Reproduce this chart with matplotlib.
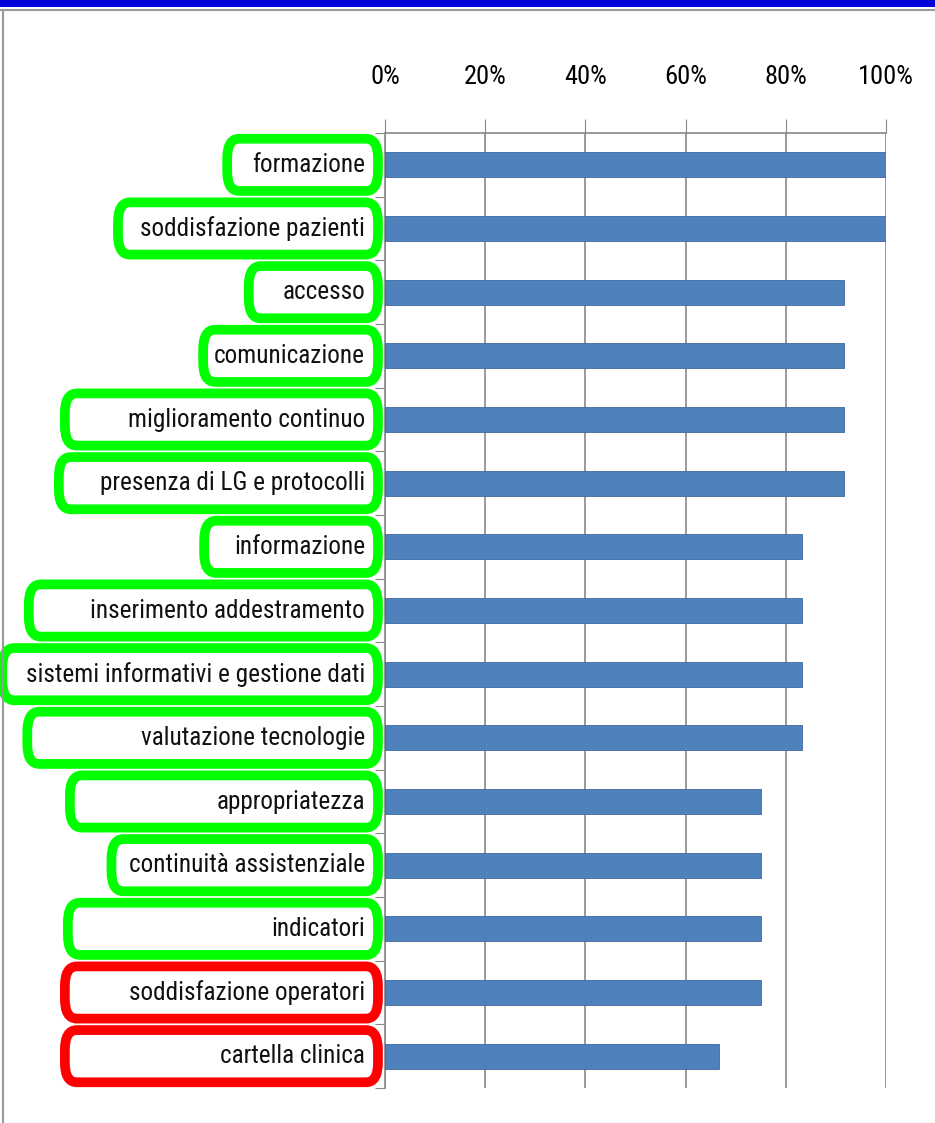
import matplotlib.pyplot as plt
from matplotlib import font_manager
from matplotlib.patches import FancyBboxPatch, Rectangle
from matplotlib.ticker import PercentFormatter

categories = [
    "formazione",
    "soddisfazione pazienti",
    "accesso",
    "comunicazione",
    "miglioramento continuo",
    "presenza di LG e protocolli",
    "informazione",
    "inserimento addestramento",
    "sistemi informativi e gestione dati",
    "valutazione tecnologie",
    "appropriatezza",
    "continuità assistenziale",
    "indicatori",
    "soddisfazione operatori",
    "cartella clinica",
]
values = [100, 100, 91.7, 91.7, 91.7, 91.7, 83.3, 83.3, 83.3, 83.3,
          75, 75, 75, 75, 66.7]
box_status = ["ok"] * 13 + ["ko"] * 2

# left edge of each hand-drawn label box, in axis percent units
box_left = [-31.5, -53.3, -27.2, -36.3, -63.9, -65.1, -36.1, -71.1, -76.4, -71.4,
            -62.9, -54.6, -63.3, -63.9, -63.9]

ticks = [0, 20, 40, 60, 80, 100]
box_colors = {"ok": "#00ff00", "ko": "#ff0000"}
bar_color = "#4f81bd"


# the original labels are set in a narrow font; use one if any is installed
def pick_font():
    fonts = font_manager.fontManager.ttflist
    prefer = ["Liberation Sans Narrow", "Roboto Condensed", "Open Sans Condensed",
              "Noto Sans Condensed", "DejaVu Sans Condensed", "Arial Narrow"]
    names = {f.name for f in fonts}
    for p in prefer:
        if p in names:
            return {"family": p}
    for f in fonts:
        if f.stretch in ("condensed", "semi-condensed", "extra-condensed") and \
                f.style == "normal" and f.weight in (400, "normal", "regular"):
            return {"family": f.name, "stretch": f.stretch}
    for f in fonts:
        if "Condensed" in f.name or "Narrow" in f.name:
            return {"family": f.name}
    return {"family": "DejaVu Sans"}


font = pick_font()

fig = plt.figure(figsize=(9.35, 11.23), dpi=100)
fig.patches.append(Rectangle((0, 1 - 7 / 1123), 1, 7 / 1123, transform=fig.transFigure,
                             facecolor="#0000dd", edgecolor="none"))
fig.lines.append(plt.Line2D([0, 1], [1 - 9.5 / 1123] * 2, transform=fig.transFigure,
                            color="#999999", lw=1.5))
fig.lines.append(plt.Line2D([2.5 / 935] * 2, [0, 1 - 9.5 / 1123], transform=fig.transFigure,
                            color="#999999", lw=1.5))

ax = fig.add_axes([385 / 935, 1 - 1088 / 1123, 501 / 935, (1088 - 133) / 1123])
y = list(range(len(categories)))
ax.barh(y, values, height=0.39, color=bar_color, edgecolor="#3c6a9e", linewidth=0.6, zorder=3)
ax.set_xlim(0, 100)
ax.set_ylim(len(categories) - 0.5, -0.5)

ax.xaxis.tick_top()
ax.set_xticks(ticks)
ax.xaxis.set_major_formatter(PercentFormatter(decimals=0))
ax.tick_params(axis="x", length=10, color="#888888", pad=22)
ax.grid(axis="x", color="#888888", linewidth=1.2, zorder=0)

ax.set_yticks([i - 0.5 for i in range(len(categories) + 1)])
ax.set_yticklabels([])
ax.tick_params(axis="y", length=7, color="#888888")
for side in ["right", "bottom"]:
    ax.spines[side].set_visible(False)
for side in ["top", "left"]:
    ax.spines[side].set_color("#888888")
    ax.spines[side].set_linewidth(1.2)

texts = []
for i, (label, st) in enumerate(zip(categories, box_status)):
    left = box_left[i]
    right = -1.4
    box = FancyBboxPatch((left, i - 0.41), right - left, 0.82,
                         boxstyle="round,pad=0,rounding_size=2.4",
                         mutation_aspect=0.13,
                         facecolor="white", edgecolor=box_colors[st], linewidth=7,
                         clip_on=False, zorder=4)
    ax.add_patch(box)
    t = ax.text(-4, i, label, ha="right", va="center", fontsize=20,
                color="#111111", zorder=5, clip_on=False, **font)
    texts.append(t)

# scale the label size so the longest label spans about 338 px as in the original
renderer = fig.canvas.get_renderer()
widest = max(t.get_window_extent(renderer).width for t in texts)
size = min(20 * 338 / widest, 24)
for t in texts:
    t.set_fontsize(size)
for lab in ax.get_xticklabels():
    lab.set_fontsize(size * 1.05)
    lab.set_family(font["family"])
    if "stretch" in font:
        lab.set_stretch(font["stretch"])

fig.savefig("out.png", dpi=100)
